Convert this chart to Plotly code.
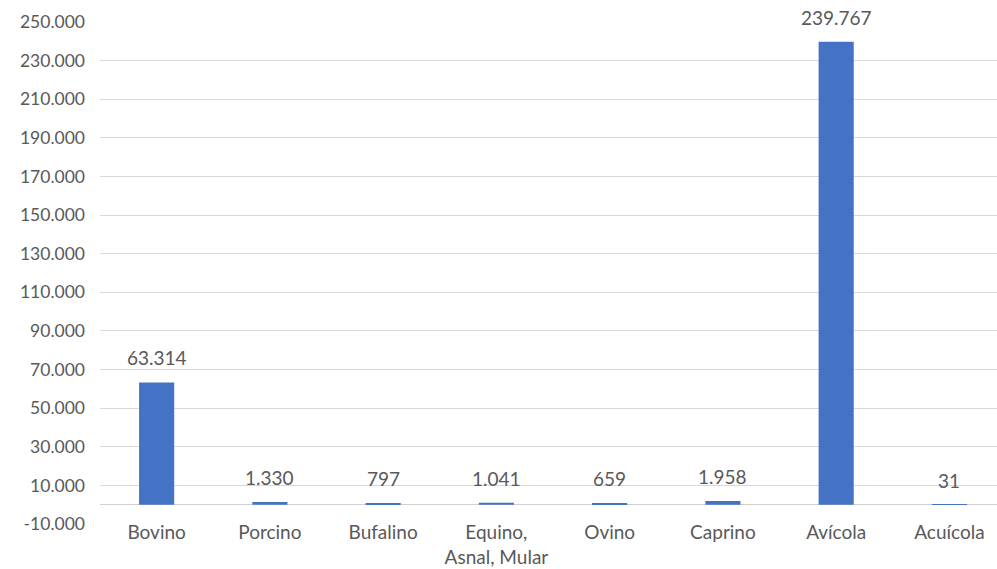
import plotly.graph_objects as go

categorias = ["Bovino", "Porcino", "Bufalino", "Equino,<br>Asnal, Mular", "Ovino", "Caprino", "Avícola", "Acuícola"]
valores = [63314, 1330, 797, 1041, 659, 1958, 239767, 31]
ticks_y = list(range(-10000, 250001, 20000))
ticks_y_texto = [f"{v:,}".replace(",", ".") for v in ticks_y]


def fmt(v):
    return f"{v:,}".replace(",", ".")


FONT = "Lato, Noto Sans, sans-serif"
GRIS_TEXTO = "#595959"

fig = go.Figure()
fig.add_trace(go.Bar(
    x=list(range(len(categorias))),
    y=valores,
    width=0.31,
    marker=dict(color="#4472C4", line=dict(width=0)),
    hoverinfo="y",
))

for i, v in enumerate(valores):
    fig.add_annotation(
        x=i, y=v, text=fmt(v), showarrow=False,
        yanchor="bottom", yshift=11,
        font=dict(family=FONT, size=19, color=GRIS_TEXTO),
    )

fig.update_layout(
    width=997, height=569,
    margin=dict(l=100, r=0, t=22, b=45),
    paper_bgcolor="white", plot_bgcolor="white",
    showlegend=False,
    font=dict(family=FONT, size=18, color=GRIS_TEXTO),
)
fig.update_yaxes(
    range=[-10000, 250000],
    tickvals=ticks_y, ticktext=ticks_y_texto,
    showgrid=True, gridcolor="#D9D9D9", gridwidth=1,
    zeroline=True, zerolinecolor="#D0D0D0", zerolinewidth=1,
    ticks="", ticklabelstandoff=14,
    tickfont=dict(family=FONT, size=17.5, color=GRIS_TEXTO),
)
fig.update_xaxes(
    range=[-0.5, 7.42],
    tickvals=list(range(len(categorias))), ticktext=categorias,
    showgrid=False, showline=False, zeroline=False, ticks="",
    ticklabelstandoff=-5,
    tickfont=dict(family=FONT, size=19, color=GRIS_TEXTO),
)

fig.write_html("out.html")
